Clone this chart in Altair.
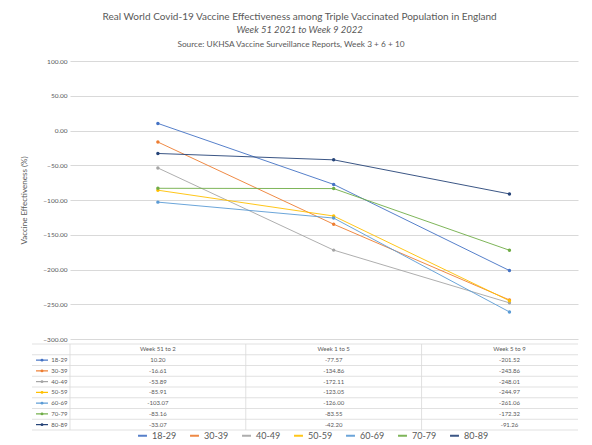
import altair as alt
import pandas as pd

weeks = ["Week 51 to 2", "Week 1 to 5", "Week 5 to 9"]
groups = ["18-29", "30-39", "40-49", "50-59", "60-69", "70-79", "80-89"]
ve_18_29 = [10.20, -77.57, -201.52]
ve_30_39 = [-16.61, -134.86, -243.86]
ve_40_49 = [-53.89, -172.11, -248.01]
ve_50_59 = [-85.91, -123.05, -244.97]
ve_60_69 = [-103.07, -126.00, -261.06]
ve_70_79 = [-83.16, -83.55, -172.32]
ve_80_89 = [-33.07, -42.20, -91.26]
colors = ["#4472C4", "#ED7D31", "#A5A5A5", "#FFC000", "#5B9BD5", "#70AD47", "#264478"]
y_ticks = [100, 50, 0, -50, -100, -150, -200, -250, -300]

line1 = "Real World Covid-19 Vaccine Effectiveness among Triple Vaccinated Population in England"
line2 = "Week 51 2021 to Week 9 2022"
line3 = "Source: UKHSA Vaccine Surveillance Reports, Week 3 + 6 + 10"

series = [ve_18_29, ve_30_39, ve_40_49, ve_50_59, ve_60_69, ve_70_79, ve_80_89]
rows = []
for g, vals in zip(groups, series):
    for i, (w, v) in enumerate(zip(weeks, vals)):
        rows.append({"group": g, "week": w, "idx": i, "ve": v, "label": f"{v:.2f}"})
df = pd.DataFrame(rows)

W = 508
H = 278
TH = 86
GRAY = "#595959"

xscale = alt.Scale(domain=[-0.5, 2.39], nice=False, zero=False)
cscale = alt.Scale(domain=groups, range=colors)
color = alt.Color("group:N", scale=cscale, title=None,
                  legend=alt.Legend(orient="none", legendX=67, legendY=369,
                                    direction="horizontal", columns=7,
                                    symbolType="stroke", symbolStrokeWidth=2, symbolSize=80,
                                    labelFontSize=9, labelColor=GRAY, columnPadding=9))

base = alt.Chart(df).encode(
    x=alt.X("idx:Q", scale=xscale, axis=None),
    y=alt.Y("ve:Q", scale=alt.Scale(domain=[-300, 100], nice=False),
            axis=alt.Axis(values=y_ticks, format=".2f", title="Vaccine Effectiveness (%)",
                          titleFontSize=8, titleColor=GRAY, titleFontWeight="normal",
                          labelFontSize=6.5, labelColor=GRAY, ticks=False, domain=False,
                          grid=True, gridColor="#D9D9D9", titlePadding=14, labelPadding=3)),
    color=color,
)
lines = base.mark_line(strokeWidth=1.0, opacity=0.9)
pts = base.mark_point(filled=True, size=12, opacity=1)
top = (lines + pts).properties(
    width=W, height=H,
    title=alt.TitleParams(line3, fontSize=8.3, color=GRAY, fontWeight="normal", anchor="middle", dx=-33, offset=10),
)

row_order = ["hdr"] + groups
tab_scale = alt.Scale(domain=row_order, paddingInner=0, paddingOuter=0)
tab_axis = alt.Axis(title=None, ticks=False, domain=False, grid=False,
                    labelExpr="datum.value == 'hdr' ? '' : datum.value",
                    labelFontSize=6, labelColor=GRAY, labelPadding=3)
tab_y = alt.Y("row:N", scale=tab_scale, axis=tab_axis)
tdf = df.assign(row=df["group"])
hdr_df = pd.DataFrame({"idx": [0, 1, 2], "row": ["hdr"] * 3, "text": weeks})
rule_df = pd.DataFrame({"row": row_order})
vline_df = pd.DataFrame({"idx": [-0.5, 0.5, 1.5]})
key_df = pd.DataFrame({"row": groups, "group": groups})

vals_text = alt.Chart(tdf).mark_text(fontSize=6, color=GRAY).encode(
    x=alt.X("idx:Q", scale=xscale, axis=None), y=tab_y, text="label:N")
hdr_text = alt.Chart(hdr_df).mark_text(fontSize=6, color=GRAY).encode(
    x=alt.X("idx:Q", scale=xscale, axis=None), y=tab_y, text="text:N")
hlines = alt.Chart(rule_df).mark_rule(color="#D9D9D9", strokeWidth=0.8).encode(
    y=alt.Y("row:N", scale=tab_scale, bandPosition=0, axis=tab_axis),
    x=alt.value(-38), x2=alt.value(W))
bottom_line = alt.Chart(rule_df.head(1)).mark_rule(color="#D9D9D9", strokeWidth=0.8).encode(
    y=alt.value(TH), x=alt.value(-38), x2=alt.value(W))
vlines = alt.Chart(vline_df).mark_rule(color="#D9D9D9", strokeWidth=0.8).encode(
    x=alt.X("idx:Q", scale=xscale, axis=None), y=alt.value(0), y2=alt.value(TH))
key_line = alt.Chart(key_df).mark_rule(strokeWidth=1.2).encode(
    y=tab_y, x=alt.value(-34), x2=alt.value(-22), color=alt.Color("group:N", scale=cscale, legend=None))
key_pt = alt.Chart(key_df).mark_point(filled=True, size=8, opacity=1).encode(
    y=tab_y, x=alt.value(-28), color=alt.Color("group:N", scale=cscale, legend=None))

table = (hlines + bottom_line + vlines + key_line + key_pt + vals_text + hdr_text).properties(width=W, height=TH)

chart = alt.vconcat(top, table, spacing=0).resolve_scale(
    y="independent", x="shared", color="shared"
).properties(
    padding={"left": 12, "top": 4, "right": 5, "bottom": 5},
    title=alt.TitleParams(line1, subtitle=[line2], subtitleFontStyle="italic", fontSize=10,
                          subtitleFontSize=9.5, color=GRAY, subtitleColor=GRAY, fontWeight="normal",
                          anchor="middle", subtitlePadding=3, offset=5)
).configure(font="Lato").configure_view(stroke=None)

chart.save("out.html", embed_options={"renderer": "svg", "actions": False})
